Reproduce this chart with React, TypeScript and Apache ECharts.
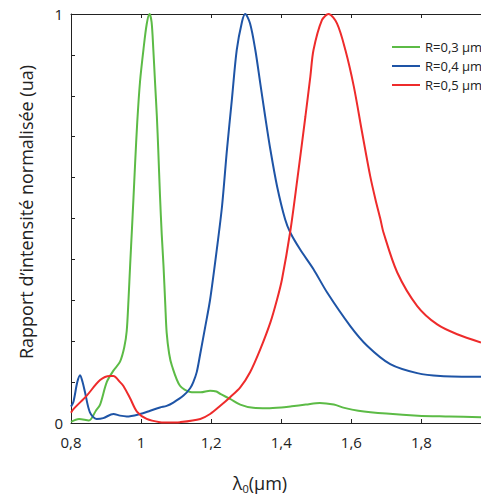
import React, { useEffect, useRef } from "react";
import * as echarts from "echarts";

const greenX = [0.80, 0.823, 0.851, 0.871, 0.883, 0.902, 0.921, 0.94, 0.952, 0.959, 0.964, 0.969, 0.974, 0.978, 0.983, 0.989, 0.997, 1.007, 1.016, 1.024, 1.030, 1.035, 1.040, 1.045, 1.049, 1.054, 1.059, 1.064, 1.069, 1.073, 1.080, 1.088, 1.111, 1.14, 1.17, 1.197, 1.215, 1.226, 1.254, 1.283, 1.32, 1.36, 1.40, 1.43, 1.47, 1.51, 1.55, 1.58, 1.62, 1.70, 1.79, 1.88, 1.97];
const greenY = [0.003, 0.01, 0.006, 0.03, 0.045, 0.10, 0.128, 0.15, 0.185, 0.225, 0.30, 0.39, 0.475, 0.545, 0.635, 0.735, 0.835, 0.915, 0.975, 1.0, 0.98, 0.912, 0.83, 0.75, 0.668, 0.555, 0.46, 0.384, 0.29, 0.221, 0.17, 0.14, 0.091, 0.076, 0.075, 0.079, 0.077, 0.071, 0.059, 0.045, 0.037, 0.036, 0.038, 0.041, 0.045, 0.049, 0.045, 0.037, 0.03, 0.023, 0.018, 0.016, 0.014];

const blueX = [0.80, 0.807, 0.818, 0.826, 0.833, 0.84, 0.854, 0.873, 0.892, 0.921, 0.94, 0.959, 0.997, 1.026, 1.054, 1.073, 1.092, 1.121, 1.14, 1.149, 1.159, 1.169, 1.183, 1.197, 1.216, 1.231, 1.245, 1.259, 1.273, 1.288, 1.297, 1.311, 1.326, 1.34, 1.354, 1.369, 1.388, 1.411, 1.426, 1.454, 1.492, 1.531, 1.597, 1.645, 1.711, 1.788, 1.854, 1.97];
const blueY = [0.04, 0.052, 0.10, 0.117, 0.1, 0.075, 0.026, 0.01, 0.012, 0.022, 0.018, 0.016, 0.022, 0.03, 0.038, 0.042, 0.05, 0.067, 0.085, 0.1, 0.125, 0.17, 0.235, 0.302, 0.424, 0.53, 0.668, 0.79, 0.912, 0.981, 1.0, 0.977, 0.912, 0.831, 0.75, 0.668, 0.579, 0.498, 0.465, 0.424, 0.376, 0.319, 0.237, 0.189, 0.144, 0.122, 0.115, 0.113];

const redX = [0.80, 0.807, 0.845, 0.883, 0.911, 0.921, 0.94, 0.95, 0.969, 0.988, 1.016, 1.054, 1.08, 1.111, 1.169, 1.197, 1.226, 1.254, 1.283, 1.311, 1.34, 1.369, 1.388, 1.402, 1.426, 1.445, 1.469, 1.483, 1.492, 1.516, 1.535, 1.559, 1.583, 1.607, 1.631, 1.654, 1.669, 1.683, 1.692, 1.731, 1.788, 1.845, 1.902, 1.97];
const redY = [0.025, 0.034, 0.067, 0.105, 0.115, 0.115, 0.1, 0.09, 0.06, 0.028, 0.01, 0.002, 0.001, 0.002, 0.01, 0.022, 0.042, 0.063, 0.087, 0.124, 0.18, 0.246, 0.302, 0.351, 0.47, 0.59, 0.75, 0.847, 0.912, 0.985, 1.0, 0.977, 0.912, 0.823, 0.709, 0.603, 0.546, 0.498, 0.465, 0.368, 0.286, 0.241, 0.217, 0.197];

const seriesNames = ["R=0,3 µm", "R=0,4 µm", "R=0,5 µm"];
const seriesColors = ["#5cbb46", "#1e54a6", "#ee2b2b"];

const xMin = 0.8;
const xMax = 1.97;
const FONT = "'Open Sans', 'Noto Sans', sans-serif";

function pairs(xs: number[], ys: number[]) {
  return xs.map((x, i) => [x, ys[i]]);
}

export default function App() {
  const ref = useRef<HTMLDivElement>(null);
  useEffect(() => {
    if (!ref.current) return;
    const chart = echarts.init(ref.current, undefined, { renderer: "svg" });
    const fmt = (v: number) => String(Math.round(v * 10) / 10).replace(".", ",");
    const datasets = [pairs(greenX, greenY), pairs(blueX, blueY), pairs(redX, redY)];
    chart.setOption({
      animation: false,
      textStyle: { fontFamily: FONT },
      grid: { left: 71, right: 0, top: 14, bottom: 71, containLabel: false },
      legend: {
        orient: "vertical",
        left: 387,
        top: 35,
        icon: "rect",
        itemWidth: 28,
        itemHeight: 2,
        itemGap: 5,
        textStyle: { fontFamily: FONT, fontSize: 13, color: "#222", lineHeight: 14 },
        data: seriesNames,
      },
      xAxis: [
        {
          type: "value",
          min: xMin,
          max: xMax,
          interval: 0.2,
          position: "bottom",
          axisLine: { show: true, onZero: false, lineStyle: { color: "#222", width: 1 } },
          axisTick: { show: true, inside: true, length: 4, lineStyle: { color: "#222" } },
          axisLabel: { formatter: fmt, fontSize: 15, color: "#222", margin: 11, showMaxLabel: false, fontFamily: FONT },
          splitLine: { show: false },
        },
        {
          type: "value",
          min: xMin,
          max: xMax,
          interval: 0.2,
          position: "top",
          axisLine: { show: true, onZero: false, lineStyle: { color: "#222", width: 1 } },
          axisTick: { show: true, inside: true, length: 4, lineStyle: { color: "#222" } },
          axisLabel: { show: false },
          splitLine: { show: false },
        },
      ],
      yAxis: {
        type: "value",
        min: 0,
        max: 1,
        interval: 0.1,
        axisLine: { show: true, lineStyle: { color: "#222", width: 1 } },
        axisTick: { show: true, inside: true, length: 4, lineStyle: { color: "#222" } },
        axisLabel: {
          fontSize: 15,
          color: "#222",
          margin: 8,
          fontFamily: FONT,
          formatter: (v: number) => (v === 0 ? "0" : Math.abs(v - 1) < 1e-9 ? "1" : ""),
        },
        splitLine: { show: false },
      },
      series: datasets.map((d, i) => ({
        name: seriesNames[i],
        type: "line",
        data: d,
        xAxisIndex: 0,
        symbol: "none",
        smooth: 0.3,
        color: seriesColors[i],
        lineStyle: { color: seriesColors[i], width: 2 },
      })),
      graphic: [
        {
          type: "text",
          x: 26,
          y: 212,
          rotation: Math.PI / 2,
          style: {
            text: "Rapport d’intensité normalisée (ua)",
            fontSize: 18,
            fontFamily: FONT,
            fill: "#222",
            textAlign: "center",
            textVerticalAlign: "middle",
          },
        },
        {
          type: "text",
          x: 260,
          y: 483,
          style: {
            text: "{a|λ}{b|0}{a|(µm)}",
            fontFamily: FONT,
            fill: "#222",
            textAlign: "center",
            textVerticalAlign: "middle",
            rich: {
              a: { fontSize: 18, fontFamily: FONT, fill: "#222", color: "#222" },
              b: { fontSize: 11, fontFamily: FONT, fill: "#222", color: "#222", padding: [10, 0, 0, 0] },
            },
          },
        },
      ],
    });
    return () => chart.dispose();
  }, []);
  return <div ref={ref} style={{ width: 481, height: 494, position: "absolute", left: 0, top: 0 }} />;
}
